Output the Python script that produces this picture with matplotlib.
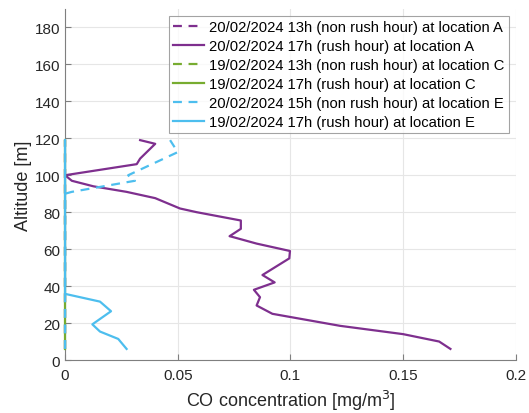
import numpy as np
import matplotlib
matplotlib.use("Agg")
from matplotlib import pyplot as plt

plt.rcParams['font.family'] = ['Liberation Sans', 'DejaVu Sans']

# altitude [m] and CO concentration [mg/m3] per profile
alt_a17 = [6, 10, 14, 18.5, 25, 29.5, 34, 38, 42, 46, 55, 59, 63, 66.5, 67, 71, 75.5, 80, 82, 87.6, 91, 94, 97, 100, 106, 109, 117, 119]
co_a17 = [0.171, 0.166, 0.150, 0.122, 0.092, 0.085, 0.0865, 0.0838, 0.093, 0.0876, 0.0995, 0.0998, 0.085, 0.0746, 0.073, 0.078, 0.078, 0.0584, 0.051, 0.040, 0.0273, 0.0126, 0.003, 0.0, 0.0318, 0.0333, 0.040, 0.0333]

alt_zero = [6, 119]
co_zero = [0.0, 0.0]

alt_e15 = [6, 90, 91, 97, 100, 112.5, 119]
co_e15 = [0.0, 0.0, 0.003, 0.031, 0.028, 0.050, 0.0466]

alt_e17 = [6, 11.4, 15.4, 19.3, 26.4, 31.6, 35.8, 119]
co_e17 = [0.0273, 0.0236, 0.0155, 0.0121, 0.0204, 0.0155, 0.0, 0.0]

purple = '#7E2F8E'
green = '#77AC30'
blue = '#4DBEEE'
dash = (4, 3)

fig = plt.figure(figsize=(5.29, 4.14), dpi=100)
ax = fig.add_axes([0.123, 0.128, 0.852, 0.848])

kw = dict(lw=1.6, clip_on=False, zorder=3)
ax.plot(co_zero, alt_zero, '--', dashes=dash, color=purple, label='20/02/2024 13h (non rush hour) at location A', **kw)
ax.plot(co_a17, alt_a17, '-', color=purple, label='20/02/2024 17h (rush hour) at location A', **kw)
ax.plot(co_zero, alt_zero, '--', dashes=dash, color=green, label='19/02/2024 13h (non rush hour) at location C', **kw)
ax.plot(co_zero, alt_zero, '-', color=green, label='19/02/2024 17h (rush hour) at location C', **kw)
ax.plot(co_e15, alt_e15, '--', dashes=dash, color=blue, label='20/02/2024 15h (non rush hour) at location E', **kw)
ax.plot(co_e17, alt_e17, '-', color=blue, label='19/02/2024 17h (rush hour) at location E', **kw)

ax.set_xlim(0, 0.2)
ax.set_ylim(0, 190)
ax.set_xticks([0, 0.05, 0.1, 0.15, 0.2])
ax.set_xticklabels(['0', '0.05', '0.1', '0.15', '0.2'])
ax.set_yticks(np.arange(0, 181, 20))
ax.grid(True, color='#e6e6e6', lw=0.8)
ax.set_axisbelow(True)
for s in ['top', 'right']:
    ax.spines[s].set_visible(False)
for s in ['left', 'bottom']:
    ax.spines[s].set_color('#7f7f7f')
ax.tick_params(direction='in', length=4, colors='#7f7f7f', labelcolor='#262626', labelsize=11)
ax.tick_params(axis='x', pad=6)

ax.set_xlabel('CO concentration [mg/m$^3$]', fontsize=13, color='#262626', labelpad=4)
ax.set_ylabel('Altitude [m]', fontsize=13, color='#262626', labelpad=2)

leg = ax.legend(loc='upper right', bbox_to_anchor=(0.984, 0.98), fontsize=10.6, frameon=True,
                fancybox=False, edgecolor='#8c8c8c', handlelength=2.1, handletextpad=0.3,
                labelspacing=0.33, borderpad=0.3, borderaxespad=0)
leg.get_frame().set_linewidth(0.8)
leg.set_zorder(5)

fig.savefig('out.png', dpi=100)
